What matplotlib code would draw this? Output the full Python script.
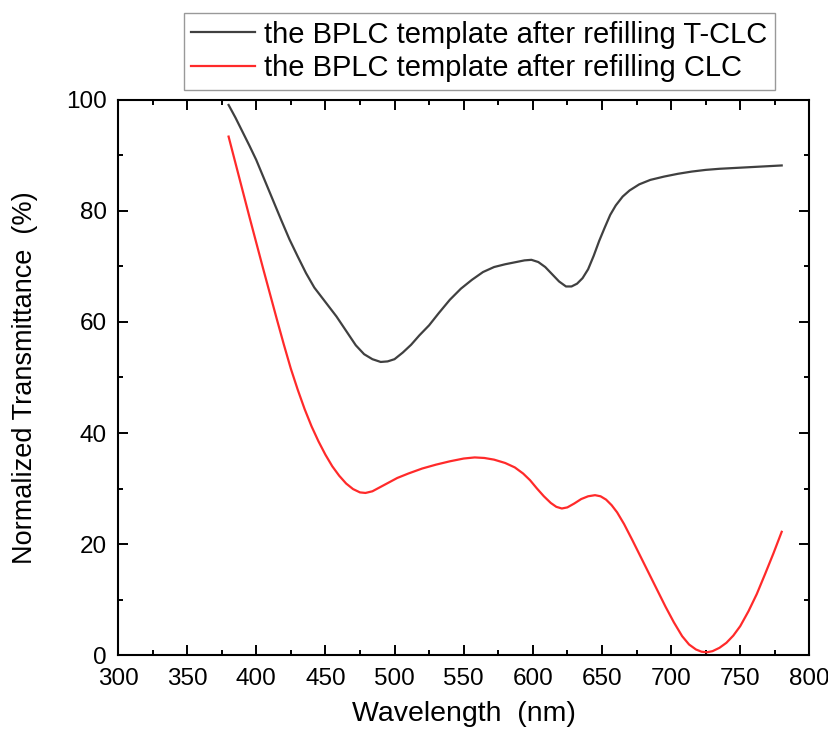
import matplotlib.pyplot as plt
from matplotlib.ticker import MultipleLocator

plt.rcParams['font.family'] = ['Liberation Sans', 'DejaVu Sans']

# wavelength (nm) and normalized transmittance (%)
wl_tclc = [380, 385, 390, 395, 400, 406, 412, 418, 424, 430, 436, 442, 450, 458,
           465, 472, 478, 484, 490, 495, 500, 506, 512, 518, 525, 532, 540, 548,
           556, 564, 572, 580, 588, 594, 599, 604, 609, 614, 619, 624, 628, 632,
           636, 640, 644, 648, 652, 656, 660, 665, 670, 677, 685, 695, 705, 715,
           725, 735, 750, 765, 780]
t_tclc = [99.1, 96.8, 94.3, 91.8, 89.2, 85.6, 82.0, 78.4, 74.9, 71.8, 68.8, 66.2,
          63.6, 61.0, 58.4, 55.8, 54.2, 53.3, 52.8, 52.9, 53.3, 54.5, 55.9, 57.6,
          59.4, 61.6, 64.0, 66.0, 67.6, 69.0, 69.9, 70.4, 70.8, 71.1, 71.2, 70.8,
          69.9, 68.6, 67.3, 66.4, 66.4, 66.9, 67.9, 69.5, 71.9, 74.6, 77.0, 79.3,
          81.0, 82.6, 83.7, 84.8, 85.6, 86.2, 86.7, 87.1, 87.4, 87.6, 87.8, 88.0,
          88.2]

wl_clc = [380, 385, 390, 395, 400, 405, 410, 415, 420, 425, 430, 435, 440, 445,
          450, 455, 460, 465, 470, 475, 479, 484, 490, 496, 502, 510, 520, 530,
          540, 550, 558, 565, 572, 580, 587, 593, 598, 603, 608, 613, 617, 621,
          625, 630, 635, 640, 645, 649, 653, 657, 661, 666, 672, 678, 684, 690,
          696, 702, 708, 713, 718, 722, 726, 730, 735, 740, 745, 750, 756, 762,
          768, 774, 780]
t_clc = [93.4, 88.6, 83.8, 79.0, 74.3, 69.6, 65.0, 60.4, 55.9, 51.6, 47.8, 44.3,
         41.2, 38.5, 36.1, 34.0, 32.3, 30.9, 29.9, 29.3, 29.2, 29.5, 30.3, 31.1,
         31.9, 32.7, 33.6, 34.3, 34.9, 35.4, 35.6, 35.5, 35.2, 34.6, 33.8, 32.7,
         31.5, 30.0, 28.6, 27.4, 26.7, 26.4, 26.6, 27.3, 28.1, 28.6, 28.8, 28.6,
         28.0, 27.0, 25.7, 23.6, 20.7, 17.7, 14.7, 11.7, 8.7, 5.9, 3.4, 1.9, 1.0,
         0.6, 0.5, 0.7, 1.3, 2.2, 3.5, 5.2, 7.9, 11.0, 14.6, 18.3, 22.2]

labels = ['the BPLC template after refilling T-CLC',
          'the BPLC template after refilling CLC']

fig = plt.figure(figsize=(8.29, 7.35), dpi=100)
ax = fig.add_axes([0.1423, 0.1088, 0.834, 0.7552])

ax.plot(wl_tclc, t_tclc, color='#404040', lw=1.6, label=labels[0])
ax.plot(wl_clc, t_clc, color='#ff2a2a', lw=1.6, label=labels[1])

ax.set_xlim(300, 800)
ax.set_ylim(0, 100)
ax.xaxis.set_major_locator(MultipleLocator(50))
ax.xaxis.set_minor_locator(MultipleLocator(25))
ax.yaxis.set_major_locator(MultipleLocator(20))
ax.yaxis.set_minor_locator(MultipleLocator(10))
ax.tick_params(which='both', direction='in', top=True, right=True, width=1.4)
ax.tick_params(which='major', length=7.5, labelsize=17.5)
ax.tick_params(which='minor', length=3.5)
ax.tick_params(axis='x', which='major', pad=9)
ax.tick_params(axis='y', which='major', pad=8)
for s in ax.spines.values():
    s.set_linewidth(1.5)

ax.set_xlabel('Wavelength  (nm)', fontsize=20.5, labelpad=8)
ax.set_ylabel('Normalized Transmittance  (%)', fontsize=19.5, labelpad=20)

leg = fig.legend(loc='upper left', bbox_to_anchor=(0.222, 0.982), borderaxespad=0,
                 fontsize=21, fancybox=False, edgecolor='#999999', framealpha=1,
                 handlelength=2.2, handletextpad=0.3, labelspacing=0.2,
                 borderpad=0.25)
leg.get_frame().set_linewidth(1.0)

fig.savefig('out.png', dpi=100)
